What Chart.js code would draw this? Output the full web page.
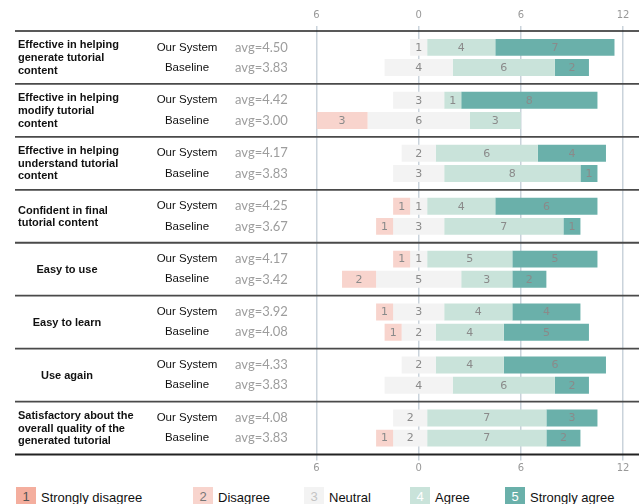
<!DOCTYPE html>
<html>
<head>
<meta charset="utf-8">
<script src="https://cdn.jsdelivr.net/npm/chart.js@4"></script>
<style>
  body { margin: 0; background: #fff; }
  #wrap { position: relative; width: 639px; height: 504px; overflow: hidden; }
  #c { position: absolute; left: 0; top: 0; }
  .item { position: absolute; top: 487px; height: 20px; display: flex; align-items: center;
          font: 13px "Liberation Sans", Arial, sans-serif; color: #111; white-space: nowrap; }
  .box { width: 20px; height: 20px; line-height: 20px; text-align: center; margin-right: 5px; }
</style>
</head>
<body>
<div id="wrap">
  <canvas id="c" width="639" height="480"></canvas>
  <div id="legend"></div>
</div>
<script>
// question labels, one entry per line
const questions = [
  ["Effective in helping", "generate tutorial", "content"],
  ["Effective in helping", "modify tutorial", "content"],
  ["Effective in helping", "understand tutorial", "content"],
  ["Confident in final", "tutorial content"],
  ["Easy to use"],
  ["Easy to learn"],
  ["Use again"],
  ["Satisfactory about the", "overall quality of the", "generated tutorial"],
];
const systems = ["Our System", "Baseline"];
const levels = ["Strongly disagree", "Disagree", "Neutral", "Agree", "Strongly agree"];

// response counts per question: [SD, D, N, A, SA]
const ourCounts = [
  [0, 0, 1, 4, 7], [0, 0, 3, 1, 8], [0, 0, 2, 6, 4], [0, 1, 1, 4, 6],
  [0, 1, 1, 5, 5], [0, 1, 3, 4, 4], [0, 0, 2, 4, 6], [0, 0, 2, 7, 3],
];
const baseCounts = [
  [0, 0, 4, 6, 2], [0, 3, 6, 3, 0], [0, 0, 3, 8, 1], [0, 1, 3, 7, 1],
  [0, 2, 5, 3, 2], [0, 1, 2, 4, 5], [0, 0, 4, 6, 2], [0, 1, 2, 7, 2],
];
// the last question's bars sit half a unit left of centre in the original
const neutralShift = [0, 0, 0, 0, 0, 0, 0, -0.5];
const xTicks = [-6, 0, 6, 12];

const levelColors = ["#F4AE9E", "#F8D4CD", "#F3F3F3", "#C9E3DA", "#6AB0AA"];
const legendNumColors = ["#555", "#777", "#c4c4c4", "#fff", "#fff"];
const legendLeft = [16, 193, 304, 410, 505];
const CAT_PCT = 0.763;

function segment(c, li, qi) {
  let start = -(c[0] + c[1]) - c[2] / 2 + neutralShift[qi];
  for (let i = 0; i < li; i++) start += c[i];
  return [start, start + c[li]];
}

function avg(c) {
  const n = c.reduce((a, b) => a + b, 0);
  return (c.reduce((s, v, i) => s + v * (i + 1), 0) / n).toFixed(2);
}

const datasets = [];
levels.forEach((lv, li) => {
  [ourCounts, baseCounts].forEach((counts, si) => {
    datasets.push({
      label: lv,
      stack: systems[si],
      data: counts.map((c, qi) => (c[li] ? segment(c, li, qi) : null)),
      counts: counts.map(c => c[li]),
      backgroundColor: levelColors[li],
      borderWidth: 0,
      categoryPercentage: CAT_PCT,
      barPercentage: 0.84,
    });
  });
});

// left-hand labels and group separators
const sidePlugin = {
  id: "side",
  beforeDatasetsDraw(chart) {
    const { ctx, chartArea } = chart;
    const n = questions.length;
    const pitch = chartArea.height / n;
    const off = pitch * CAT_PCT / 4;
    ctx.save();
    for (let g = 0; g <= n; g++) {
      const yy = chartArea.top + g * pitch;
      ctx.strokeStyle = (g === 0 || g === n) ? "#222" : "#4a4a4a";
      ctx.lineWidth = (g === 0) ? 1.3 : 1.8;
      ctx.beginPath();
      ctx.moveTo(15, yy);
      ctx.lineTo(639, yy);
      ctx.stroke();
    }
    ctx.textBaseline = "middle";
    questions.forEach((lines, g) => {
      const cy = chartArea.top + (g + 0.5) * pitch;
      ctx.font = 'bold 11px "Liberation Sans", Arial, sans-serif';
      ctx.fillStyle = "#111";
      const lh = 12.6;
      lines.forEach((t, i) => {
        const yy = cy + (i - (lines.length - 1) / 2) * lh + 0.5;
        if (lines.length === 1) { ctx.textAlign = "center"; ctx.fillText(t, 67, yy); }
        else { ctx.textAlign = "left"; ctx.fillText(t, 18, yy); }
      });
      [ourCounts, baseCounts].forEach((counts, si) => {
        const yy = cy + (si === 0 ? -off : off);
        ctx.font = '11.5px "Liberation Sans", Arial, sans-serif';
        ctx.fillStyle = "#111";
        ctx.textAlign = "center";
        ctx.fillText(systems[si], 187, yy);
        ctx.font = '13px Lato, "Open Sans", sans-serif';
        ctx.fillStyle = "#9d9d9d";
        ctx.textAlign = "left";
        ctx.fillText("avg=" + avg(counts[g]), 235, yy);
      });
    });
    ctx.restore();
  },
  afterDatasetsDraw(chart) {
    const { ctx } = chart;
    ctx.save();
    ctx.font = '11px "DejaVu Sans", sans-serif';
    ctx.fillStyle = "#8a8a8a";
    ctx.textAlign = "center";
    ctx.textBaseline = "middle";
    chart.data.datasets.forEach((ds, di) => {
      chart.getDatasetMeta(di).data.forEach((el, i) => {
        if (!ds.counts[i]) return;
        ctx.fillText(String(ds.counts[i]), (el.x + el.base) / 2, el.y + 0.5);
      });
    });
    ctx.restore();
  },
};

const tickFont = { family: "DejaVu Sans", size: 10 };
const gridColor = "#cad3db";

new Chart(document.getElementById("c"), {
  type: "bar",
  data: { labels: questions.map(q => q.join(" ")), datasets },
  plugins: [sidePlugin],
  options: {
    indexAxis: "y",
    responsive: false,
    animation: false,
    devicePixelRatio: 1,
    layout: { padding: { left: 316.5, right: 16, top: 0, bottom: 0 } },
    plugins: { legend: { display: false }, tooltip: { enabled: false } },
    scales: {
      y: { type: "category", display: false },
      x: {
        type: "linear", position: "top", min: -6, max: 12, stacked: false,
        afterBuildTicks: s => { s.ticks = xTicks.map(v => ({ value: v })); },
        afterFit: s => { s.height = 31; },
        ticks: { font: tickFont, color: "#999", padding: 5, callback: v => Math.abs(v) },
        grid: { color: gridColor, lineWidth: 1.5, tickLength: 5 },
        border: { display: false },
      },
      x2: {
        type: "linear", position: "bottom", min: -6, max: 12,
        afterBuildTicks: s => { s.ticks = xTicks.map(v => ({ value: v })); },
        afterFit: s => { s.height = 25.5; },
        ticks: { font: tickFont, color: "#999", padding: 2, callback: v => Math.abs(v) },
        grid: { color: gridColor, lineWidth: 1.5, tickLength: 6, drawOnChartArea: false },
        border: { display: false },
      },
    },
  },
});

// legend
const legend = document.getElementById("legend");
levels.forEach((lv, i) => {
  const item = document.createElement("div");
  item.className = "item";
  item.style.left = legendLeft[i] + "px";
  const box = document.createElement("div");
  box.className = "box";
  box.style.background = levelColors[i];
  box.style.color = legendNumColors[i];
  box.textContent = String(i + 1);
  const txt = document.createElement("span");
  txt.textContent = lv;
  item.appendChild(box);
  item.appendChild(txt);
  legend.appendChild(item);
});
</script>
</body>
</html>
